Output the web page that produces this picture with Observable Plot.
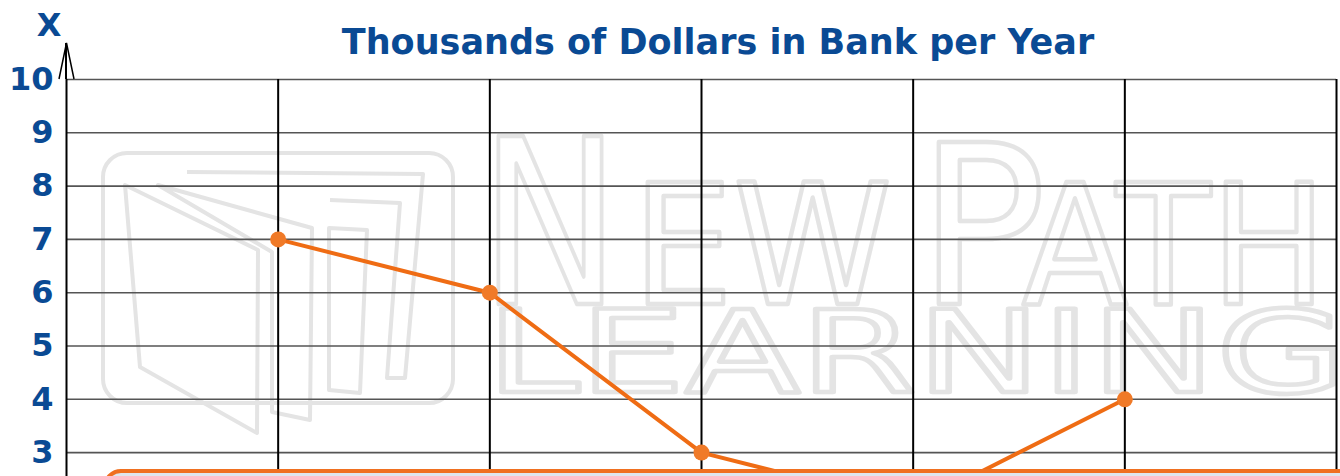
<!DOCTYPE html>
<html>
<head>
<meta charset="utf-8">
<script src="https://cdn.jsdelivr.net/npm/d3@7"></script>
<script src="https://cdn.jsdelivr.net/npm/@observablehq/plot@0.6"></script>
<style>
  html, body { margin: 0; padding: 0; background: #fff; }
  #wrap { position: relative; width: 1340px; height: 476px; overflow: hidden; font-family: "DejaVu Sans", sans-serif; }
  #chart { position: absolute; left: 0; top: 0; }
  #box { position: absolute; left: 103px; top: 469px; width: 1400px; height: 60px;
         border: 4px solid #f07020; border-radius: 18px; background: #dfe6ee; box-sizing: border-box; }
</style>
</head>
<body>
<div id="wrap">
  <div id="chart"></div>
  <div id="box"></div>
</div>
<script>
// ---- data ----
const title = "Thousands of Dollars in Bank per Year";
const yLabel = "X";
const years = [1, 2, 3, 4, 5];
const dollars = [7, 6, 3, 2, 4];
const yTicks = [0, 1, 2, 3, 4, 5, 6, 7, 8, 9, 10];
const xGrid = [0, 1, 2, 3, 4, 5, 6];

const data = years.map((yr, i) => ({year: yr, value: dollars[i]}));

const blue = "#0a4a94";
const orange = "#ef6c14";

const plot = Plot.plot({
  width: 1340,
  height: 700,
  marginTop: 79,
  marginLeft: 66,
  marginRight: 4,
  marginBottom: 88,
  style: {fontFamily: "DejaVu Sans", background: "transparent"},
  x: {domain: [0, 6], axis: null},
  y: {domain: [0, 10], axis: null},
  marks: [
    Plot.ruleY(yTicks, {y: d => d, stroke: "#555", strokeWidth: 1.6}),
    Plot.ruleX(xGrid, {x: d => d, stroke: "#000", strokeWidth: 2}),
    Plot.axisY({ticks: yTicks, tickSize: 0, tickPadding: 13, fontSize: 32, fontWeight: "bold",
                fill: blue, label: null, tickFormat: d => String(d)}),
    Plot.line(data, {x: "year", y: "value", stroke: orange, strokeWidth: 4}),
    Plot.dot(data, {x: "year", y: "value", r: 8, fill: "#f07a28", stroke: "none"})
  ]
});

document.getElementById("chart").appendChild(plot);

const svg = d3.select(plot);
const sx = plot.scale("x"), sy = plot.scale("y");
const x0 = sx.apply(0), yTop = sy.apply(10);

// watermark behind everything
const wm = svg.insert("g", ":first-child")
  .attr("fill", "#fff").attr("stroke", "#e4e4e4").attr("stroke-width", 4.5)
  .attr("stroke-linejoin", "round").attr("font-family", "DejaVu Sans")
  .attr("text-anchor", "start");
const word = (t, x, y, size, len) => wm.append("text").text(t)
  .attr("x", x).attr("y", y).attr("font-size", size).attr("text-anchor", "start")
  .attr("textLength", len).attr("lengthAdjust", "spacingAndGlyphs");
word("N", 480, 304, 230, 140);
word("EW", 632, 304, 167, 260);
word("P", 918, 304, 222, 128);
word("ATH", 1022, 304, 168, 305);
word("LEARNING", 486, 392, 114, 860);
const logo = wm.append("g").attr("fill", "none").attr("stroke-width", 4);
logo.append("rect").attr("x", 103).attr("y", 153).attr("width", 350).attr("height", 250).attr("rx", 24);
logo.append("path").attr("d", "M125,185 L140,367 L257,433 L258,250 Z");
logo.append("path").attr("d", "M158,185 L312,228 L310,420 L272,412 L272,252 Z");
logo.append("path").attr("d", "M187,172 L423,174 L405,378 L387,378 L400,203 L330,200");
logo.append("path").attr("d", "M329,228 L367,230 L360,393 L329,390 Z");

// y axis arrow
svg.append("path")
  .attr("d", `M${x0},${yTop} L${x0},${yTop - 36}`)
  .attr("stroke", "#000").attr("stroke-width", 2).attr("fill", "none");
svg.append("path")
  .attr("d", `M${x0 - 7},${yTop} L${x0 + 0.5},${yTop - 36} L${x0 + 8},${yTop}`)
  .attr("stroke", "#000").attr("stroke-width", 1.5).attr("fill", "none");

// title and y label
svg.append("text").text(title)
  .attr("x", 718).attr("y", 54).attr("text-anchor", "middle")
  .attr("font-size", 35).attr("font-weight", "bold").attr("fill", blue)
  .attr("font-family", "DejaVu Sans");
svg.append("text").text(yLabel)
  .attr("x", 49).attr("y", 36).attr("text-anchor", "middle")
  .attr("font-size", 32).attr("font-weight", "bold").attr("fill", blue)
  .attr("font-family", "DejaVu Sans");
</script>
</body>
</html>
